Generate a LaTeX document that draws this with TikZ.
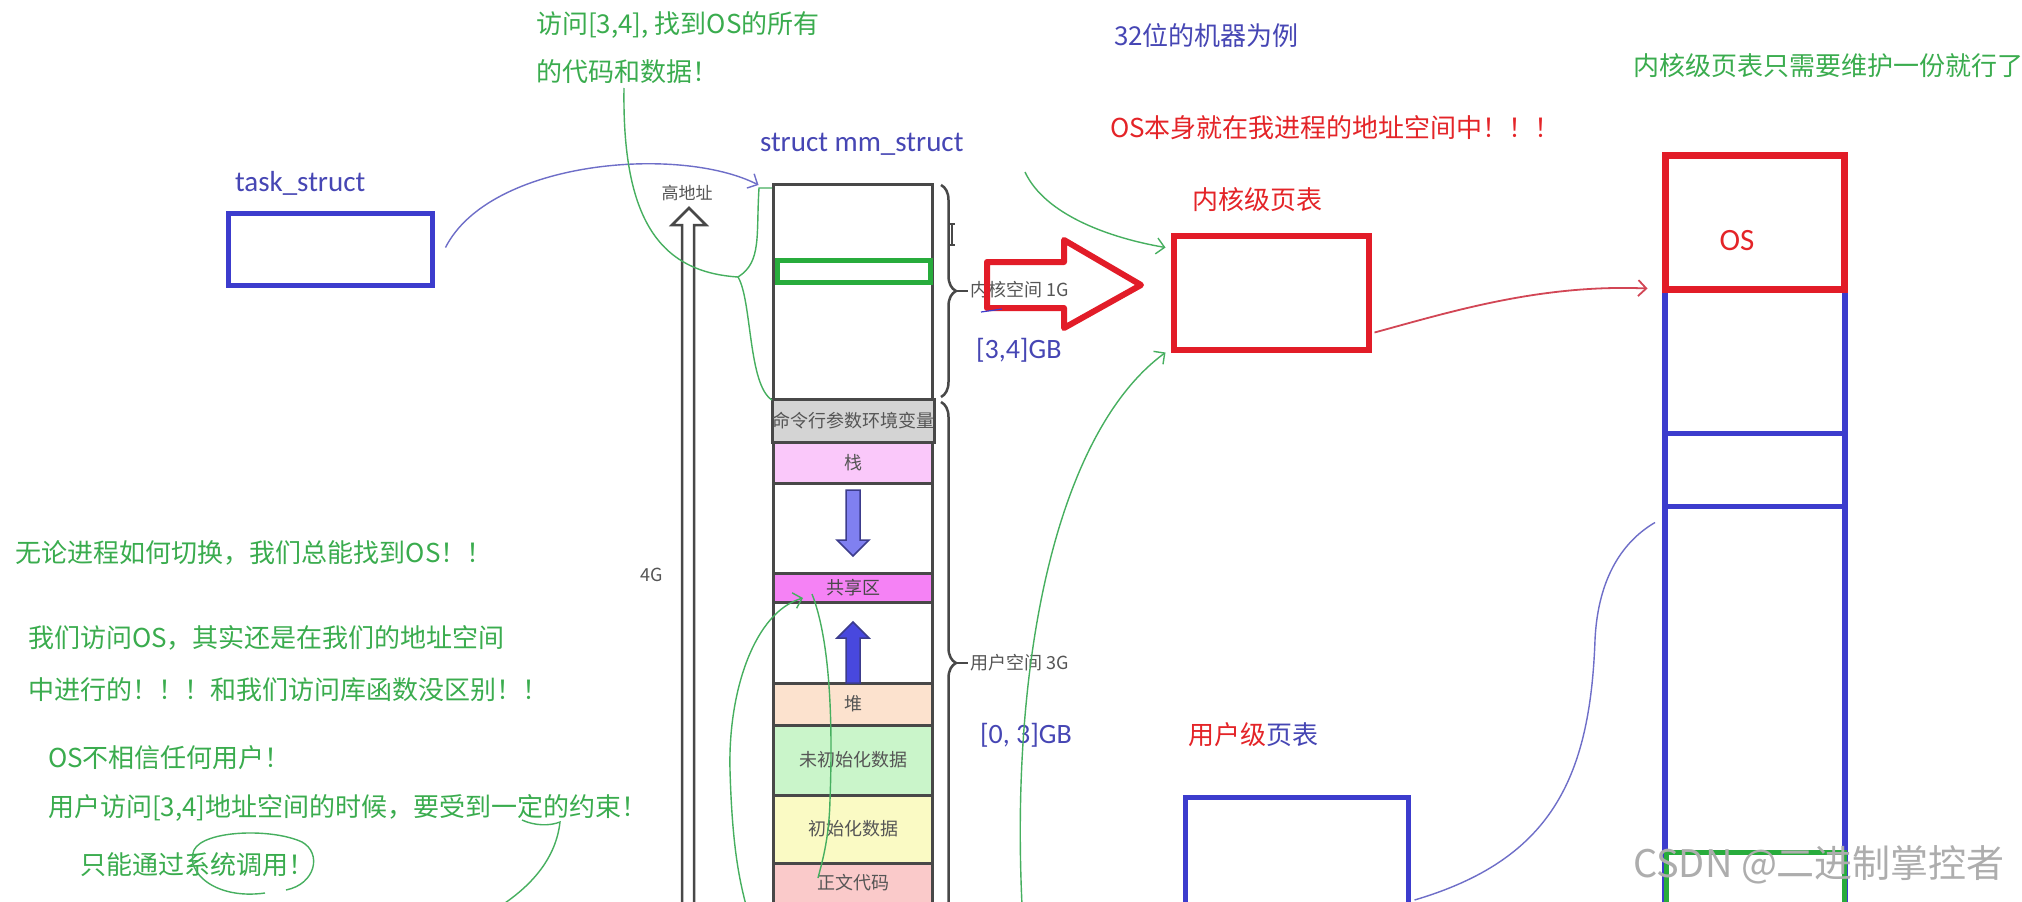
\documentclass[tikz,border=0pt]{standalone}
\usepackage{fontspec}
\setmainfont{Noto Sans CJK SC}
\newfontfamily\lat{Carlito}
\usetikzlibrary{arrows.meta,decorations.pathreplacing,calc}
\definecolor{gtext}{RGB}{58,172,78}
\definecolor{btext}{RGB}{70,70,180}
\definecolor{rtext}{RGB}{228,36,40}
\definecolor{bbox}{RGB}{60,60,205}
\definecolor{rbox}{RGB}{226,28,40}
\definecolor{gbox}{RGB}{40,172,60}
\definecolor{seggray}{RGB}{72,72,72}
\definecolor{labgray}{RGB}{85,85,85}
\definecolor{fgray}{RGB}{212,212,212}
\definecolor{fstack}{RGB}{250,200,250}
\definecolor{fshared}{RGB}{245,130,245}
\definecolor{fheap}{RGB}{252,226,206}
\definecolor{fbss}{RGB}{202,245,202}
\definecolor{fdata}{RGB}{250,250,196}
\definecolor{ftext}{RGB}{250,202,202}
\definecolor{arrlt}{RGB}{128,128,240}
\definecolor{arrbl}{RGB}{72,72,222}
\definecolor{arrdk}{RGB}{60,60,140}
\definecolor{annotg}{RGB}{70,175,95}
\definecolor{curveb}{RGB}{110,110,200}
\definecolor{curver}{RGB}{210,70,85}
\begin{document}
\begin{tikzpicture}[x=1pt,y=-1pt,
  every node/.style={inner sep=0pt,outer sep=0pt},
  gt/.style={text=gtext,font=\fontsize{26}{30}\selectfont,anchor=west},
  bt/.style={text=btext,font=\lat\fontsize{29}{32}\selectfont,anchor=west},
  glab/.style={text=labgray,font=\fontsize{18}{20}\selectfont},
  seg/.style={draw=seggray,line width=3pt,minimum width=159pt,anchor=north,text=labgray,font=\fontsize{18}{20}\selectfont},
  hook/.tip={Straight Barb[length=8pt,width=16pt]},
  annot/.style={draw=annotg,line width=1.4pt},
  bcurve/.style={draw=curveb,line width=1.4pt},
  rcurve/.style={draw=curver,line width=1.8pt},
  bracestyle/.style={draw=seggray,line width=2.5pt,decorate,decoration={brace,amplitude=15pt}}
]
\useasboundingbox (0,0) rectangle (2022,902);
\fill[white] (0,0) rectangle (2022,902);
\clip (0,0) rectangle (2022,902);

% ---------- top texts ----------
\node[gt] (t1) at (536,25) {访问[3,4], 找到OS的所有};
\node[gt] (t2) at (536,72) {的代码和数据！};
\node[gt,text=btext] (t3) at (1114,36) {32位的机器为例};
\node[gt,text=rtext] (t4) at (1110,128) {OS本身就在我进程的地址空间中！！！};
\node[gt] (t5) at (1633,66) {内核级页表只需要维护一份就行了};

% ---------- task_struct ----------
\node[bt] (tasklab) at (235,183) {task\_struct};
\node[draw=bbox,line width=5pt,minimum width=204pt,minimum height=72pt] (task) at (330.5,249.5) {};

% ---------- mm_struct column ----------
\node[bt] (mmlab) at (760,144) {struct mm\_struct};
\node[glab,font=\fontsize{17}{20}\selectfont] (high) at (687,193) {高地址};
\node[glab] (fourg) at (652,575) {4G};
\draw[draw=seggray,line width=2.5pt,fill=white,line join=miter]
  (682,910) -- (682,225) -- (672,225) -- (689,208) -- (706,225) -- (694,225) -- (694,910);

\node[seg,minimum height=215pt] (kern) at (853,184) {};
\node[seg,minimum height=43pt,fill=fgray] (args) at (853,399) {命令行参数环境变量};
\node[seg,minimum height=41pt,fill=fstack] (stack) at (853,442) {栈};
\node[seg,minimum height=90pt] (gap1) at (853,483) {};
\node[seg,minimum height=29pt,fill=fshared,text=seggray] (shared) at (853,573) {共享区};
\node[seg,minimum height=81pt] (gap2) at (853,602) {};
\node[seg,minimum height=42pt,fill=fheap] (heap) at (853,683) {堆};
\node[seg,minimum height=70pt,fill=fbss] (bss) at (853,725) {未初始化数据};
\node[seg,minimum height=68pt,fill=fdata] (data) at (853,795) {初始化数据};
\node[seg,minimum height=77pt,fill=ftext] (code) at (853,863) {};
\node[glab] (codelab) at (853,883) {正文代码};
\node[draw=gbox,line width=5pt,minimum width=153pt,minimum height=22pt] (osmap) at (854,271.5) {};

% growth arrows
\draw[draw=arrdk,fill=arrlt,line width=1.5pt,line join=miter]
  (846,490) -- (860,490) -- (860,540) -- (869,540) -- (853,556) -- (837,540) -- (846,540) -- cycle;
\draw[draw=arrdk,fill=arrbl,line width=1.5pt,line join=miter]
  (846,683) -- (846,638) -- (837,638) -- (853,622) -- (869,638) -- (860,638) -- (860,683) -- cycle;

% braces
\draw[bracestyle] (941,185) -- (941,397);
\draw[draw=seggray,line width=2.5pt] (955,291) -- (968,291);
\node[glab,anchor=west] (kspace) at (970,290) {内核空间 1G};
\draw[bracestyle] (941,402) -- (941,924);
\draw[draw=seggray,line width=2.5pt] (955,663) -- (968,663);
\node[glab,anchor=west] (uspace) at (970,663) {用户空间 3G};
\draw[draw=seggray,line width=2.5pt] (949,224) -- (955,224) (952,224) -- (952,245) (949,245) -- (955,245);

\node[bt,font=\lat\fontsize{28}{32}\selectfont] (gb34) at (976,350) {[3,4]GB};
\node[bt,font=\lat\fontsize{28}{32}\selectfont] (gb03) at (980,735) {[0, 3]GB};

% big red arrow
\draw[draw=rbox,line width=6pt,line join=round]
  (987,262) -- (1064,262) -- (1064,240) -- (1141,285) -- (1064,328) -- (1064,308) -- (987,308) -- cycle;
\draw[draw=bbox,line width=1.2pt] (981,312) -- (1002,309);

% ---------- page tables ----------
\node[gt,text=rtext,anchor=center] (kptlab) at (1257,200) {内核级页表};
\node[draw=rbox,line width=6pt,minimum width=195pt,minimum height=114pt] (kpt) at (1271,292.5) {};
\node[gt,anchor=center] (uptlab) at (1253,735) {\textcolor{rtext}{用户级}\textcolor{btext}{页表}};
\node[draw=bbox,line width=5pt,minimum width=223pt,minimum height=165pt] (upt) at (1297,880) {};

% ---------- physical memory ----------
\node[draw=bbox,line width=6pt,minimum width=180pt,minimum height=671pt] (phys) at (1755,624.5) {};
\node[draw=bbox,line width=5pt,minimum width=180pt,minimum height=73pt] (physmid) at (1755,469.5) {};
\node[draw=rbox,line width=7pt,minimum width=179pt,minimum height=134pt,fill=white] (os) at (1755,222.5) {};
\node[text=rtext,font=\lat\fontsize{31}{34}\selectfont] (oslab) at (1737,241) {OS};
\draw[draw=rbox,line width=7pt] (1665.5,289.5) -- (1844.5,289.5);
\node[draw=gbox,line width=5pt,minimum width=178pt,minimum height=76pt] (physuser) at (1755,890) {};

% ---------- left notes ----------
\node[gt] (n1) at (16,553) {无论进程如何切换，我们总能找到OS！！};
\node[gt] (n2) at (28,638) {我们访问OS，其实还是在我们的地址空间};
\node[gt] (n3) at (28,690) {中进行的！！！和我们访问库函数没区别！！};
\node[gt] (n4) at (48,758) {OS不相信任何用户！};
\node[gt] (n5) at (48,808) {用户访问[3,4]地址空间的时候，要受到一定的约束！};
\node[gt] (n6) at (80,865) {只能通过系统调用！};

% ---------- connectors / annotations ----------
\draw[bcurve,-{hook}] ($(task.east)+(13,-2)$) .. controls (490,160) and (680,145) .. ($(kern.north west)+(-15,1)$);
\draw[annot] (624,88) .. controls (622,220) and (660,272) .. (738,277);
\draw[annot] (772,188) -- (759,188) .. controls (756,235) and (762,262) .. (738,277)
  .. controls (752,300) and (748,385) .. (772,400);
\draw[annot,-{hook}] (1025,172) .. controls (1045,215) and (1110,238) .. ($(kpt.north west)+(-8,12)$);
\draw[annot,-{hook}] (1022,905) .. controls (1010,650) and (1060,430) .. ($(kpt.south west)+(-8,3)$);
\draw[rcurve,-{hook}] ($(kpt.south east)+(6,-17)$) .. controls (1450,312) and (1540,284) .. ($(os.south west)+(-18,-1)$);
\draw[bcurve] ($(upt.east)+(6,20)$) .. controls (1550,860) and (1590,780) .. (1595,640)
  .. controls (1598,575) and (1625,540) .. ($(phys.west)+(-10,-102)$);
\draw[annot,{hook}-] ($(shared.south)+(-50,-4)$) .. controls (755,612) and (728,690) .. (730,770)
  .. controls (732,840) and (738,875) .. (746,905);
\draw[annot] ($(shared.south)+(-41,-8)$) .. controls (830,640) and (833,720) .. (830,800)
  .. controls (829,840) and (822,862) .. (818,878);
\draw[annot] (265,893) .. controls (215,900) and (185,872) .. (194,850)
  .. controls (204,830) and (272,828) .. (302,842) .. controls (322,853) and (316,884) .. (286,890);
\draw[annot] (522,820) .. controls (535,826) and (550,826) .. (560,822)
  .. controls (556,858) and (532,885) .. (502,905);

% watermark
\node[anchor=west,text=black!32,font=\fontsize{38}{42}\selectfont] (wm) at (1633,865) {CSDN @二进制掌控者};
\end{tikzpicture}
\end{document}
